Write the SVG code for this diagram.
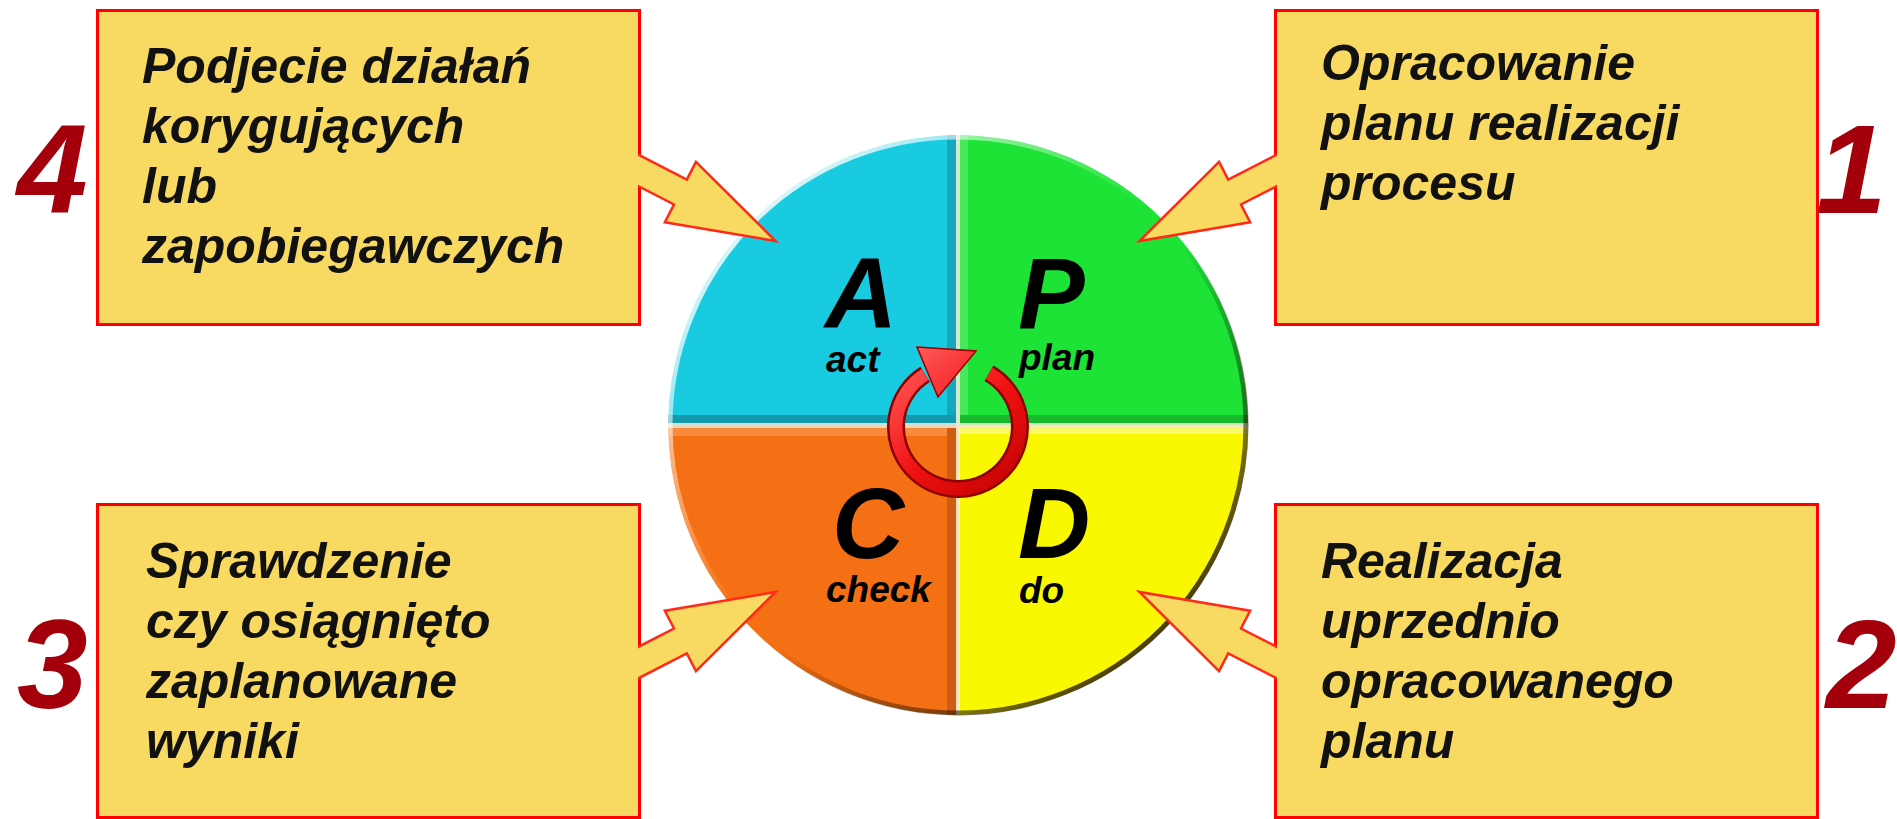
<svg xmlns="http://www.w3.org/2000/svg" width="1897" height="819" viewBox="0 0 1897 819">
<style>
.box{fill:#F8D962;stroke:#FF0000;stroke-width:3}
.txt{font-family:"Liberation Sans",Arial,sans-serif;font-weight:bold;font-style:italic;font-size:50px;fill:#111}
.num{font-family:"Liberation Sans",Arial,sans-serif;font-weight:bold;font-style:italic;font-size:127px;fill:#A3000B}
.big{font-family:"Liberation Sans",Arial,sans-serif;font-weight:bold;font-style:italic;font-size:100px;fill:#000}
.small{font-family:"Liberation Sans",Arial,sans-serif;font-weight:bold;font-style:italic;font-size:37px;fill:#000}
.arrow{fill:#F8D962;stroke:#FF2A1A;stroke-width:2.5;stroke-linejoin:miter}
</style>
<defs>
<clipPath id="disc"><circle cx="958" cy="425" r="290"/></clipPath>
<clipPath id="outside"><path clip-rule="evenodd" d="M0,0H1897V819H0Z M99,12H638V323H99Z M1277,12H1816V323H1277Z M99,506H638V816H99Z M1277,506H1816V816H1277Z"/></clipPath>
<linearGradient id="rim" gradientUnits="userSpaceOnUse" x1="750" y1="215" x2="1165" y2="635">
<stop offset="0" stop-color="#FFFFFF" stop-opacity="0.85"/>
<stop offset="0.45" stop-color="#FFFFFF" stop-opacity="0"/>
<stop offset="0.55" stop-color="#000000" stop-opacity="0"/>
<stop offset="1" stop-color="#2A1A00" stop-opacity="0.85"/>
</linearGradient>
<linearGradient id="ring" gradientUnits="userSpaceOnUse" x1="900" y1="360" x2="1020" y2="495">
<stop offset="0" stop-color="#FF5A5A"/>
<stop offset="0.5" stop-color="#F01212"/>
<stop offset="1" stop-color="#C00000"/>
</linearGradient>
<polygon id="arr" points="-20,-14 46,-14 46,-34 153,0 46,34 46,14 -20,14"/>
</defs>
<rect width="1897" height="819" fill="#FFFFFF"/>

<g id="pdca-circle">
<g clip-path="url(#disc)">
<path d="M958,425 L668,425 A290,290 0 0 1 958,135 Z" fill="#19CBE0"/>
<path d="M958,425 L958,135 A290,290 0 0 1 1248,425 Z" fill="#1CE336"/>
<path d="M958,425 L1248,425 A290,290 0 0 1 958,715 Z" fill="#FAF800"/>
<path d="M958,425 L958,715 A290,290 0 0 1 668,425 Z" fill="#F57014"/>
<rect x="947" y="135" width="9" height="288" fill="#13A8BD"/>
<rect x="668" y="415" width="288" height="8" fill="#1399AE"/>
<rect x="960" y="135" width="8" height="288" fill="#48E85C"/>
<rect x="960" y="415" width="288" height="8" fill="#16BA2C"/>
<rect x="668" y="428" width="288" height="8" fill="#F88A3C"/>
<rect x="947" y="428" width="9" height="287" fill="#CC5D12"/>
<rect x="960" y="428" width="288" height="6" fill="#FBF96A"/>
<rect x="956" y="135" width="4" height="580" fill="#F2F0D8" opacity="0.85"/>
<rect x="668" y="423" width="580" height="5" fill="#F2E6D2" opacity="0.85"/>
</g>
<circle cx="958" cy="425" r="288" fill="none" stroke="url(#rim)" stroke-width="5"/>
<text class="big" x="825" y="328">A</text>
<text class="small" x="826" y="372">act</text>
<text class="big" x="1018" y="328">P</text>
<text class="small" x="1019" y="370">plan</text>
<text class="big" x="832" y="558">C</text>
<text class="small" x="826" y="602">check</text>
<text class="big" x="1018" y="558">D</text>
<text class="small" x="1019" y="603">do</text>
</g>

<g id="cycle-arrow">
<path d="M989,373.3 A62,62 0 1 1 925.1,374.4" fill="none" stroke="#8E0000" stroke-width="18"/>
<path d="M989,373.3 A62,62 0 1 1 925.1,374.4" fill="none" stroke="url(#ring)" stroke-width="13"/>
<polygon points="917,347 976,351 938,397" fill="url(#ring)" stroke="#9A0000" stroke-width="1.5"/>
</g>

<g id="node-4">
<rect class="box" x="97.5" y="10.5" width="542" height="314"/>
<text class="txt"><tspan x="142" y="83">Podjecie działań</tspan><tspan x="142" y="143">korygujących</tspan><tspan x="142" y="203">lub</tspan><tspan x="142" y="263">zapobiegawczych</tspan></text>
<text class="num" x="17" y="213">4</text>
</g>

<g id="node-1">
<rect class="box" x="1275.5" y="10.5" width="542" height="314"/>
<text class="txt"><tspan x="1321" y="80">Opracowanie</tspan><tspan x="1321" y="140">planu realizacji</tspan><tspan x="1321" y="200">procesu</tspan></text>
<text class="num" x="1816" y="213">1</text>
</g>

<g id="node-3">
<rect class="box" x="97.5" y="504.5" width="542" height="313"/>
<text class="txt"><tspan x="146" y="578">Sprawdzenie</tspan><tspan x="146" y="638">czy osiągnięto</tspan><tspan x="146" y="698">zaplanowane</tspan><tspan x="146" y="758">wyniki</tspan></text>
<text class="num" x="17" y="708">3</text>
</g>

<g id="node-2">
<rect class="box" x="1275.5" y="504.5" width="542" height="313"/>
<text class="txt"><tspan x="1321" y="578">Realizacja</tspan><tspan x="1321" y="638">uprzednio</tspan><tspan x="1321" y="698">opracowanego</tspan><tspan x="1321" y="758">planu</tspan></text>
<text class="num" x="1826" y="708">2</text>
</g>

<g id="connectors" clip-path="url(#outside)">
<use href="#arr" class="arrow" transform="translate(639.5,171) rotate(27.24)"/>
<use href="#arr" class="arrow" transform="translate(1275.5,171) rotate(152.76)"/>
<use href="#arr" class="arrow" transform="translate(639.5,662) rotate(-27.24)"/>
<use href="#arr" class="arrow" transform="translate(1275.5,662) rotate(207.24)"/>
</g>
</svg>
